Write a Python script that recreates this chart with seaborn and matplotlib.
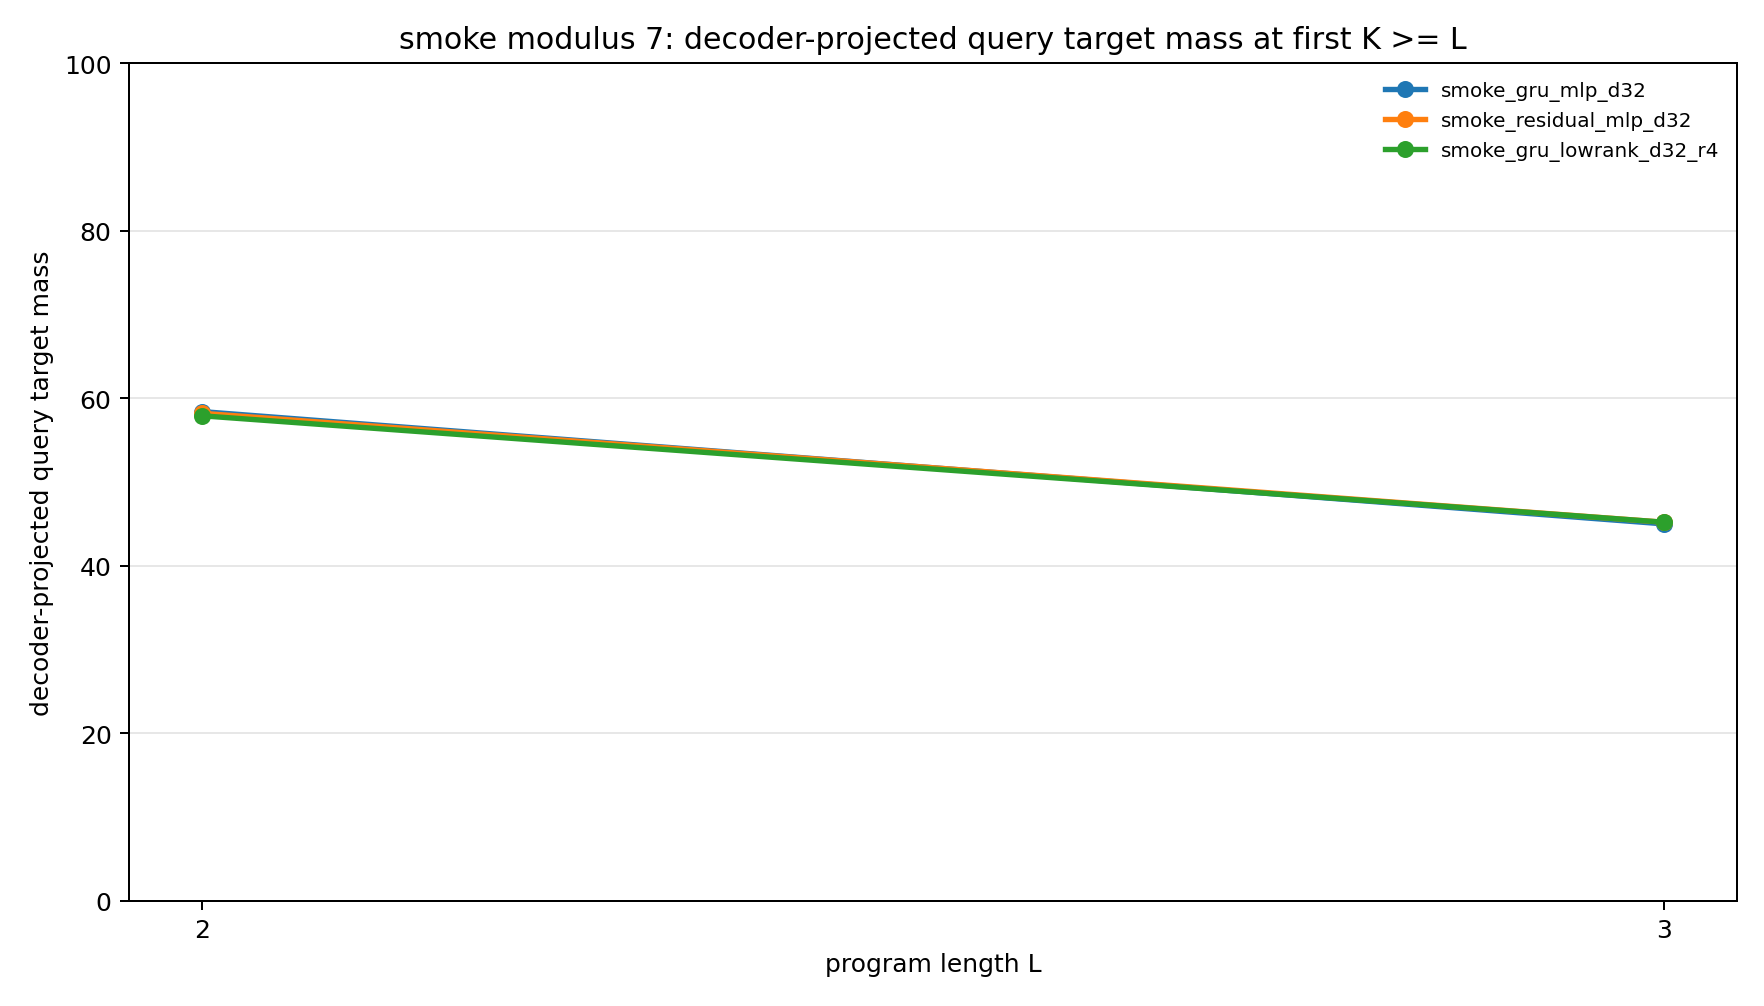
import matplotlib
matplotlib.use("Agg")
import matplotlib.pyplot as plt
import seaborn as sns
import pandas as pd

program_length = [2, 3]
models = ["smoke_gru_mlp_d32", "smoke_residual_mlp_d32", "smoke_gru_lowrank_d32_r4"]
gru_mlp = [58.4, 45.0]
residual_mlp = [58.2, 45.2]
gru_lowrank = [57.9, 45.2]
colors = ["#1f77b4", "#ff7f0e", "#2ca02c"]

series = [gru_mlp, residual_mlp, gru_lowrank]
rows = []
for m, vals in zip(models, series):
    for L, v in zip(program_length, vals):
        rows.append({"L": L, "mass": v, "model": m})
df = pd.DataFrame(rows)

DPI = 180
plt.rcParams["font.family"] = ["DejaVu Sans"]
fig, ax = plt.subplots(figsize=(1764 / DPI, 1007 / DPI), dpi=DPI)
fig.subplots_adjust(left=129 / 1764, right=1737 / 1764, top=1 - 64 / 1007, bottom=1 - 902 / 1007)

sns.lineplot(data=df, x="L", y="mass", hue="model", hue_order=models, palette=colors,
             marker="o", markersize=6.8, linewidth=2.15, markeredgewidth=0, ax=ax)

ax.set_ylim(0, 100)
ax.set_xticks(program_length)
ax.set_xticklabels([str(v) for v in program_length])
ax.set_xlabel("program length L", fontsize=10)
ax.set_ylabel("decoder-projected query target mass", fontsize=10)
ax.set_title("smoke modulus 7: decoder-projected query target mass at first K >= L", fontsize=12)
ax.grid(axis="y", color="#b0b0b0", alpha=0.3, linewidth=0.8)
ax.set_axisbelow(True)
leg = ax.legend(loc="upper right", frameon=False, fontsize=8, title=None)

fig.savefig("out.png", dpi=DPI)
